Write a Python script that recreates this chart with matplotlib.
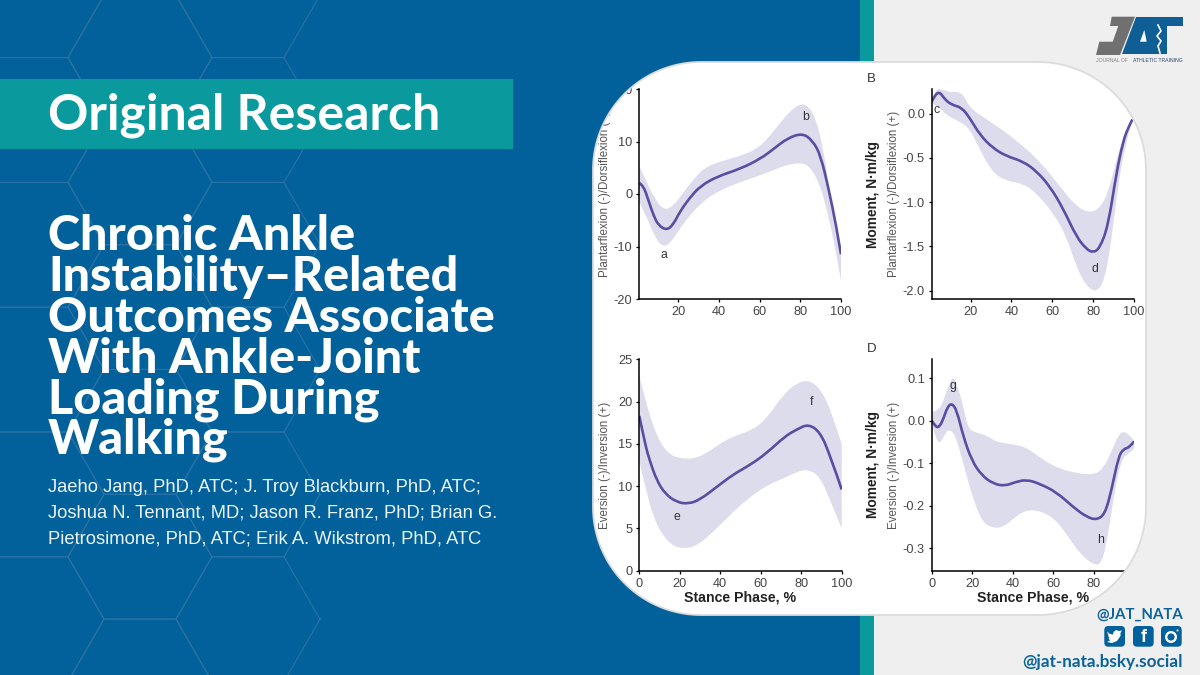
# JAT promo card with the four stance phase panels

import numpy as np
import matplotlib
matplotlib.use('Agg')
import matplotlib.pyplot as plt
from matplotlib.patches import Polygon, Rectangle, FancyBboxPatch, Circle, PathPatch
from matplotlib.path import Path

W, H = 1200, 675

BLUE = '#02609a'
TEAL = '#0a9a9e'
LIGHT = '#efefef'
LINE = '#5a4ea3'
BAND = '#dddcec'
TICK = '#444444'

# panel A, ankle angle
a_x = [1, 3, 5.4, 7.9, 10.4, 14.5, 17.7, 21, 26, 31, 39, 50.6, 60.4, 67, 73.6, 81, 86, 90, 94, 97.4, 100]
a_y = [2.1, 1.6, -1.1, -4, -6, -6.9, -5.8, -3.3, -0.6, 1.5, 3.3, 4.8, 6.7, 8.6, 10.6, 11.6, 10.2, 7.4, 0.8, -5.5, -11.5]
a_up_x = [1, 5, 8, 13, 18, 22, 28, 33, 40, 50, 58, 64, 70, 75, 80, 84, 88, 91, 94, 97, 100]
a_up_y = [5.3, 2, -0.5, -3.2, -2.2, 0, 3, 5, 6.1, 7.2, 8.4, 10.5, 13.5, 15.8, 17.2, 16.8, 14, 9, 2, -6.5, -12]
a_lo_x = [1, 5, 9, 13, 17, 21, 27, 33, 40, 50, 60, 66, 72, 80, 85, 90, 94, 97, 100]
a_lo_y = [-1.5, -4.7, -8.5, -10.2, -9, -6.5, -3.5, -1.2, 0.6, 2.2, 3.5, 4.4, 5.4, 6, 5.2, 1.5, -4.5, -10, -16.5]

# panel B, sagittal moment
b_x = [1, 2.1, 4.6, 7.5, 10.8, 15.7, 19.7, 24.6, 31, 37.6, 45.8, 52.3, 58.8, 65.3, 71.8, 76.7, 80, 83.2, 87.3, 91.4, 94.6, 97, 99.2]
b_y = [0.135, 0.19, 0.255, 0.16, 0.10, 0.07, -0.05, -0.24, -0.39, -0.48, -0.54, -0.65, -0.82, -1.07, -1.39, -1.53, -1.57, -1.52, -1.27, -0.67, -0.32, -0.165, -0.065]
b_up_x = [1, 3, 5, 8, 11, 14, 17, 19.7, 31, 42.5, 54, 63.7, 71.8, 78.4, 83.2, 87.3, 91.4, 95.5, 99.2]
b_up_y = [0.16, 0.27, 0.28, 0.26, 0.24, 0.25, 0.2, 0.06, -0.11, -0.30, -0.54, -0.82, -1.05, -1.12, -1.07, -0.9, -0.52, -0.22, -0.065]
b_lo_x = [1, 4.3, 8.3, 14.8, 19.7, 24.6, 31, 37.6, 45.8, 52.3, 60.4, 67, 71.8, 76.7, 81.6, 85.7, 89, 92.2, 95.5, 99.2]
b_lo_y = [0.12, 0.08, -0.02, -0.09, -0.17, -0.41, -0.67, -0.76, -0.79, -0.90, -1.12, -1.39, -1.73, -1.95, -2.02, -1.88, -1.42, -0.82, -0.37, -0.065]

# panel C, frontal angle
c_x = [0, 2.8, 5.3, 8.6, 12.7, 18.5, 24.2, 30, 38.2, 46.5, 54.7, 62.9, 72, 77.8, 83.5, 89.3, 94.2, 100]
c_y = [18.3, 15, 12.9, 10.7, 9.1, 8.1, 7.9, 8.4, 9.9, 11.4, 12.5, 13.9, 15.9, 16.7, 17.35, 16.4, 13.7, 9.6]
c_up_x = [0, 2.8, 5.3, 10.2, 15.2, 20, 26.7, 33.3, 41.5, 48, 56.3, 63, 71, 77.8, 83.5, 89.3, 95, 100]
c_up_y = [23, 20.5, 18.2, 15.1, 13.7, 13.3, 13.2, 13.9, 15.3, 16, 16.7, 18, 20.8, 22.2, 22.55, 21.6, 18.8, 15]
c_lo_x = [0, 2.8, 6.9, 11, 16, 21.7, 28.3, 36.6, 44.8, 53, 63, 72, 77.8, 83.5, 89.3, 94.2, 100]
c_lo_y = [13, 10, 6.4, 4.4, 3, 2.6, 2.9, 4.6, 6.6, 8.4, 10.1, 11, 11.7, 12, 11.1, 8.4, 5]

# panel D, frontal moment
d_x = [0, 1.6, 3.6, 5.8, 7.7, 9.9, 12.4, 15.7, 19.8, 24.7, 30.5, 36.2, 41.2, 47, 53.5, 61.8, 70, 76.6, 81.5, 85.7, 89, 92.3, 94.7, 98, 100]
d_y = [0, -0.013, -0.017, 0.004, 0.031, 0.041, 0.024, -0.039, -0.094, -0.129, -0.149, -0.154, -0.145, -0.139, -0.149, -0.169, -0.204, -0.227, -0.234, -0.22, -0.161, -0.086, -0.067, -0.063, -0.049]
d_up_x = [0, 4.1, 6.6, 9, 10.7, 13.2, 15.7, 18.1, 22.2, 27.2, 32.1, 38.7, 47, 55.2, 63.4, 71.7, 79.9, 84.8, 89, 92.3, 94.7, 98, 100]
d_up_y = [0.02, 0.024, 0.059, 0.09, 0.104, 0.075, 0.031, -0.02, -0.029, -0.035, -0.051, -0.055, -0.063, -0.094, -0.114, -0.124, -0.128, -0.114, -0.071, -0.035, -0.025, -0.035, -0.047]
d_lo_x = [0, 1.6, 3.8, 5.8, 8.2, 11.5, 15.7, 20.6, 25.5, 30.5, 35.4, 40.4, 45.3, 51.9, 60, 66.7, 73.3, 79.9, 84, 87.3, 90.6, 93.9, 97.2, 100]
d_lo_y = [-0.005, -0.035, -0.056, -0.039, -0.02, -0.031, -0.102, -0.188, -0.242, -0.253, -0.251, -0.231, -0.213, -0.21, -0.227, -0.267, -0.314, -0.339, -0.339, -0.267, -0.161, -0.09, -0.078, -0.067]

title_lines = ['Chronic Ankle', 'Instability\u2013Related', 'Outcomes Associate',
               'With Ankle-Joint', 'Loading During', 'Walking']
title_base = [250, 290.7, 331.7, 372.7, 413, 454]
author_lines = ['Jaeho Jang, PhD, ATC; J. Troy Blackburn, PhD, ATC;',
                'Joshua N. Tennant, MD; Jason R. Franz, PhD; Brian G.',
                'Pietrosimone, PhD, ATC; Erik A. Wikstrom, PhD, ATC']
author_base = [492, 517.5, 543]

plt.rcParams['font.family'] = ['Liberation Sans', 'DejaVu Sans']
plt.rcParams['axes.unicode_minus'] = False

fig = plt.figure(figsize=(12, 6.75), dpi=100)

# background in pixel coordinates
bg = fig.add_axes([0, 0, 1, 1], zorder=0)
bg.set_xlim(0, W)
bg.set_ylim(H, 0)
bg.axis('off')
bg.add_patch(Rectangle((0, 0), 860, H, color=BLUE, lw=0))
bg.add_patch(Rectangle((860, 0), 14, H, color=TEAL, lw=0))
bg.add_patch(Rectangle((874, 0), W - 874, H, color=LIGHT, lw=0))

# honeycomb
s = 72
pitch = 124.8
ang = np.radians(np.arange(0, 361, 60))
for cx, y0 in [(32, 120), (140, 57.5), (248, 120)]:
    for k in range(-1, 6):
        cy = y0 + k * pitch
        bg.plot(cx + s * np.cos(ang), cy + pitch / 2 * np.sin(ang) / np.sin(np.pi / 3),
                color='#2a72a5', lw=0.8, zorder=1)

bg.add_patch(Rectangle((0, 79), 513, 70, color=TEAL, lw=0, zorder=2))
bg.text(48, 130, 'Original Research', color='white', fontsize=36, family='Lato',
        weight='bold', va='baseline', zorder=3)
for line, base in zip(title_lines, title_base):
    bg.text(48, base, line, color='white', fontsize=34.9, family='Lato', weight='black',
            va='baseline', zorder=3)
for line, base in zip(author_lines, author_base):
    bg.text(48, base, line, color='#eaf5fb', fontsize=13.2, va='baseline', zorder=3)

# white card
CARD = (593, 62, 1146, 615)
RAD = 108
bg.add_patch(Rectangle((CARD[0], CARD[1]), CARD[2] - CARD[0], CARD[3] - CARD[1], color='white', lw=0, zorder=2))


def panel(left, right, top, bottom, xlim, ylim):
    ax = fig.add_axes([left / W, 1 - bottom / H, (right - left) / W, (bottom - top) / H], zorder=1)
    ax.patch.set_alpha(0)
    ax.set_xlim(*xlim)
    ax.set_ylim(*ylim)
    ax.spines['top'].set_visible(False)
    ax.spines['right'].set_visible(False)
    ax.spines['left'].set_linewidth(1.1)
    ax.spines['bottom'].set_linewidth(1.1)
    ax.tick_params(labelsize=9.2, labelcolor=TICK, length=2.5, width=0.9, pad=2.5)
    return ax


def smooth(x, y):
    # quadratic segments with the read values as control points
    pts = np.column_stack([x, y])
    verts = [pts[0]]
    codes = [Path.MOVETO]
    for i in range(1, len(pts) - 1):
        end = pts[i + 1] if i == len(pts) - 2 else (pts[i] + pts[i + 1]) / 2
        verts += [pts[i], end]
        codes += [Path.CURVE3, Path.CURVE3]
    return verts, codes


def draw(ax, x, y, up_x, up_y, lo_x, lo_y):
    v1, c1 = smooth(up_x, up_y)
    v2, c2 = smooth(lo_x[::-1], lo_y[::-1])
    c2[0] = Path.LINETO
    verts = v1 + v2 + [v1[0]]
    codes = c1 + c2 + [Path.CLOSEPOLY]
    ax.add_patch(PathPatch(Path(verts, codes), facecolor=BAND, edgecolor='none', zorder=1))
    v, c = smooth(x, y)
    ax.add_patch(PathPatch(Path(v, c), facecolor='none', edgecolor=LINE, lw=1.9, zorder=2))


def labels(ax, ylab, lab_x, bold_x=None, xlab=False):
    ax.set_ylabel(ylab, fontsize=8.3, color='#555555')
    ax.yaxis.set_label_coords(lab_x, 0.5)
    if bold_x is not None:
        ax.text(bold_x, 0.5, 'Moment, N\u00b7m/kg', transform=ax.transAxes, rotation=90,
                fontsize=9.9, weight='bold', color='#222222', ha='center', va='center')
    if xlab:
        ax.set_xlabel('Stance Phase, %', fontsize=10.2, weight='bold', color='#222222')
        ax.xaxis.set_label_coords(0.5, -0.093)


def letter(ax, x, y, txt):
    ax.text(x, y, txt, fontsize=8.8, color='#333333', ha='center', va='center', zorder=3)


ax_a = panel(639.3, 841, 89, 299, (1, 100), (-20, 20))
draw(ax_a, a_x, a_y, a_up_x, a_up_y, a_lo_x, a_lo_y)
ax_a.set_xticks([20, 40, 60, 80, 100])
ax_a.set_yticks([-20, -10, 0, 10, 20])
labels(ax_a, 'Plantarflexion (-)/Dorsiflexion (+)', -0.138)
letter(ax_a, 13.2, -11.6, 'a')
letter(ax_a, 82.6, 14.6, 'b')

ax_b = panel(931.7, 1134, 89, 299.3, (1, 100), (-2.097, 0.279))
draw(ax_b, b_x, b_y, b_up_x, b_up_y, b_lo_x, b_lo_y)
ax_b.set_xticks([20, 40, 60, 80, 100])
ax_b.set_yticks([-2, -1.5, -1, -0.5, 0])
ax_b.set_yticklabels(['-2.0', '-1.5', '-1.0', '-0.5', '0.0'])
labels(ax_b, 'Plantarflexion (-)/Dorsiflexion (+)', -0.155, -0.289)
letter(ax_b, 3.4, 0.04, 'c')
letter(ax_b, 81, -1.76, 'd')

ax_c = panel(639.3, 841.7, 359.3, 570.7, (0, 100), (0, 25))
draw(ax_c, c_x, c_y, c_up_x, c_up_y, c_lo_x, c_lo_y)
ax_c.set_xticks([0, 20, 40, 60, 80, 100])
ax_c.set_yticks([0, 5, 10, 15, 20, 25])
labels(ax_c, 'Eversion (-)/Inversion (+)', -0.138, xlab=True)
letter(ax_c, 18.5, 6.4, 'e')
letter(ax_c, 85.2, 20, 'f')

ax_d = panel(931.7, 1134, 359.3, 570.7, (0, 100), (-0.3534, 0.144))
draw(ax_d, d_x, d_y, d_up_x, d_up_y, d_lo_x, d_lo_y)
ax_d.set_xticks([0, 20, 40, 60, 80, 100])
ax_d.set_yticks([-0.3, -0.2, -0.1, 0, 0.1])
ax_d.set_yticklabels(['-0.3', '-0.2', '-0.1', '0.0', '0.1'])
labels(ax_d, 'Eversion (-)/Inversion (+)', -0.155, -0.289, xlab=True)
letter(ax_d, 10.4, 0.082, 'g')
letter(ax_d, 83.7, -0.282, 'h')

# foreground in pixel coordinates: corners of the card, logo, handles
fg = fig.add_axes([0, 0, 1, 1], zorder=5)
fg.patch.set_alpha(0)
fg.set_xlim(0, W)
fg.set_ylim(H, 0)
fg.axis('off')

fg.text(871.7, 79.5, 'B', fontsize=9.5, color='#333333', ha='center', va='center')
fg.text(871.7, 349.5, 'D', fontsize=9.5, color='#333333', ha='center', va='center')

outline = []
corners = [(CARD[2] - RAD, CARD[1] + RAD, -90, 0, CARD[2], CARD[1], LIGHT),
           (CARD[2] - RAD, CARD[3] - RAD, 0, 90, CARD[2], CARD[3], LIGHT),
           (CARD[0] + RAD, CARD[3] - RAD, 90, 180, CARD[0], CARD[3], BLUE),
           (CARD[0] + RAD, CARD[1] + RAD, 180, 270, CARD[0], CARD[1], BLUE)]
for cx, cy, a0, a1, kx, ky, col in corners:
    t = np.radians(np.linspace(a0, a1, 40))
    arc = np.column_stack([cx + RAD * np.cos(t), cy + RAD * np.sin(t)])
    fg.add_patch(Polygon(np.vstack([arc, [kx, ky]]), closed=True, color=col, lw=0, zorder=1))
    outline.append(arc)
outline = np.vstack(outline)
fg.add_patch(Polygon(outline, closed=True, fill=False, edgecolor='#dcdcdc', lw=1.3, zorder=2))

# logo
fg.add_patch(Polygon([(1111.7, 16.7), (1135, 16.7), (1120, 55), (1096, 55), (1099.3, 41.7),
                      (1112.7, 41.7), (1118.3, 26), (1110, 26)], closed=True, color='#707070', lw=0))
fg.add_patch(Polygon([(1135.7, 16.7), (1182.7, 16.7), (1182.7, 26), (1167.3, 26), (1167.3, 54.3),
                      (1121.7, 54.3)], closed=True, color='#0f5f96', lw=0))
fg.add_patch(Polygon([(1140, 41.7), (1146.7, 41.7), (1144.3, 30)], closed=True, color='white', lw=0))
fg.plot([1158, 1161, 1157, 1161, 1158, 1160], [25, 31, 36, 41, 46, 53], color='white', lw=1.2)
fg.text(1096, 61, 'JOURNAL OF', fontsize=3.7, color='#808080', va='center')
fg.text(1183, 61, 'ATHLETIC TRAINING', fontsize=3.7, color='#2a4a6a', va='center', ha='right')

# handles and social icons
fg.text(1183, 615, '@JAT_NATA', fontsize=10.8, family='Lato', weight='bold', color='#0b639c',
        ha='right', va='center')
fg.text(1183, 661.5, '@jat-nata.bsky.social', fontsize=12.3, family='Lato', weight='bold', color='#0b639c',
        ha='right', va='center')
for x0 in [1104.3, 1133, 1161]:
    fg.add_patch(FancyBboxPatch((x0 + 3, 629), 14.7, 14.7, boxstyle='round,pad=3,rounding_size=4',
                                color=BLUE, lw=0))
fg.add_patch(Polygon([(1107, 631.5), (1110, 634), (1113, 634.5), (1113.5, 632), (1116, 630), (1119, 631),
                      (1122, 630.5), (1120.5, 633), (1120.5, 636), (1117, 641), (1112, 643), (1107, 642),
                      (1110, 640.5), (1108.5, 638.5), (1109.5, 638), (1108, 636), (1108.5, 635.5)],
                     closed=True, color='white', lw=0))
fg.text(1143.3, 637, 'f', fontsize=13, weight='bold', color='white', ha='center', va='center')
fg.add_patch(Circle((1171, 637), 4.8, fill=False, edgecolor='white', lw=1.7))
fg.add_patch(Circle((1177.5, 630.5), 1, color='white', lw=0))

fig.savefig('out.png', dpi=100)
